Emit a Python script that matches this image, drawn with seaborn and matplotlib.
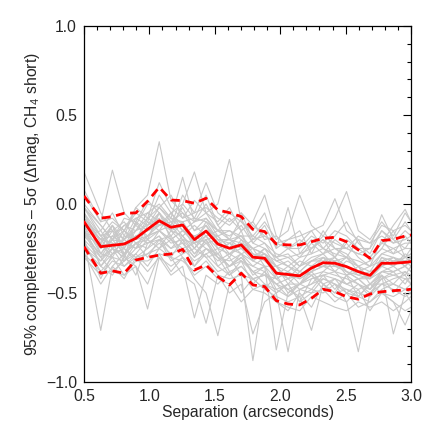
import numpy as np
import pandas as pd
import seaborn as sns
import matplotlib
matplotlib.use('Agg')
import matplotlib.pyplot as plt

# separations (arcsec) of the sampled radii
sep = [0.5, 0.628, 0.717, 0.807, 0.896, 0.986, 1.075, 1.165, 1.254, 1.344,
       1.433, 1.523, 1.612, 1.702, 1.791, 1.881, 1.970, 2.060, 2.149, 2.239,
       2.328, 2.418, 2.507, 2.597, 2.686, 2.776, 2.865, 2.955, 3.0]

# median and spread (red lines)
median = [-0.10, -0.24, -0.232, -0.225, -0.193, -0.142, -0.094, -0.131, -0.118, -0.200,
          -0.152, -0.225, -0.249, -0.230, -0.299, -0.305, -0.389, -0.396, -0.404, -0.360,
          -0.330, -0.333, -0.352, -0.380, -0.401, -0.333, -0.333, -0.328, -0.324]
upper = [0.045, -0.080, -0.071, -0.052, -0.050, 0.015, 0.094, 0.022, 0.019, 0.004,
         0.032, -0.034, -0.049, -0.071, -0.142, -0.155, -0.225, -0.230, -0.230, -0.212,
         -0.193, -0.187, -0.212, -0.258, -0.305, -0.206, -0.199, -0.180, -0.174]
lower = [-0.240, -0.389, -0.376, -0.389, -0.315, -0.300, -0.287, -0.281, -0.255, -0.371,
         -0.343, -0.408, -0.455, -0.389, -0.455, -0.464, -0.543, -0.562, -0.567, -0.530,
         -0.479, -0.493, -0.521, -0.535, -0.506, -0.493, -0.487, -0.483, -0.479]

# individual epochs (gray lines)
runs = [
    [-0.02, -0.15, -0.05, -0.18, -0.02, 0.05, 0.35, 0.02, -0.05, -0.10, 0.00, -0.12, -0.20, -0.08, -0.22, -0.15, -0.30, -0.28, -0.35, -0.25, -0.20, -0.30, -0.22, -0.30, -0.35, -0.20, -0.28, -0.18, -0.22],
    [-0.20, -0.71, -0.35, -0.28, -0.40, -0.22, -0.18, -0.30, -0.20, -0.35, -0.25, -0.30, -0.40, -0.32, -0.45, -0.38, -0.50, -0.45, -0.55, -0.42, -0.40, -0.48, -0.40, -0.52, -0.45, -0.40, -0.50, -0.42, -0.45],
    [0.05, -0.10, 0.19, -0.05, -0.12, 0.00, -0.02, 0.05, -0.08, 0.02, -0.05, -0.10, -0.02, -0.15, -0.10, -0.20, -0.18, -0.25, -0.22, -0.15, -0.25, -0.18, -0.10, -0.22, -0.28, -0.15, -0.20, -0.10, -0.15],
    [-0.10, -0.25, -0.15, -0.30, -0.10, -0.20, -0.05, -0.15, 0.00, 0.18, -0.05, 0.00, 0.25, -0.10, -0.15, -0.05, -0.25, -0.20, -0.15, -0.28, -0.15, -0.25, -0.30, -0.20, -0.32, -0.25, -0.15, -0.30, -0.25],
    [-0.25, -0.35, -0.40, -0.30, -0.35, -0.45, -0.28, -0.38, -0.30, -0.42, -0.50, -0.74, -0.45, -0.55, -0.48, -0.50, -0.55, -0.60, -0.50, -0.58, -0.45, -0.52, -0.55, -0.48, -0.60, -0.50, -0.55, -0.60, -0.58],
    [-0.15, -0.30, -0.25, -0.35, -0.28, -0.20, -0.25, -0.15, -0.22, -0.30, -0.20, -0.35, -0.30, -0.40, -0.88, -0.45, -0.48, -0.52, -0.45, -0.40, -0.48, -0.42, -0.50, -0.45, -0.50, -0.42, -0.38, -0.45, -0.40],
    [-0.18, -0.28, -0.30, -0.40, -0.35, -0.59, -0.30, -0.40, -0.35, -0.64, -0.40, -0.45, -0.38, -0.50, -0.42, -0.48, -0.40, -0.50, -0.45, -0.38, -0.45, -0.50, -0.40, -0.45, -0.52, -0.40, -0.45, -0.38, -0.42],
    [-0.05, -0.18, -0.10, -0.15, -0.05, -0.10, 0.05, -0.05, 0.00, -0.08, 0.05, -0.12, -0.05, -0.10, -0.18, -0.10, -0.20, -0.15, 0.05, -0.12, -0.18, -0.08, 0.07, -0.15, -0.20, -0.10, -0.18, -0.05, -0.10],
    [-0.12, -0.20, -0.28, -0.20, -0.25, -0.18, -0.15, -0.20, -0.25, -0.22, -0.30, -0.28, -0.35, -0.30, -0.38, -0.45, -0.50, -0.83, -0.48, -0.50, -0.42, -0.45, -0.55, -0.83, -0.50, -0.45, -0.48, -0.52, -0.50],
    [-0.22, -0.32, -0.25, -0.28, -0.22, -0.25, -0.20, -0.25, -0.18, -0.28, -0.22, -0.30, -0.35, -0.28, -0.40, -0.35, -0.82, -0.50, -0.45, -0.48, -0.40, -0.38, -0.45, -0.42, -0.48, -0.40, -0.73, -0.50, -0.55],
    [0.18, -0.05, -0.15, -0.10, -0.20, -0.08, -0.12, -0.05, -0.15, -0.10, -0.08, -0.15, -0.18, -0.12, -0.22, -0.25, -0.30, -0.25, -0.30, -0.22, -0.28, -0.20, -0.25, -0.28, -0.25, -0.06, -0.20, -0.25, -0.20],
    [-0.30, -0.40, -0.32, -0.35, -0.30, -0.28, -0.22, -0.28, -0.25, -0.32, -0.28, -0.35, -0.40, -0.35, -0.42, -0.40, -0.45, -0.48, -0.52, -0.71, -0.45, -0.50, -0.48, -0.52, -0.45, -0.50, -0.55, -0.68, -0.60],
    [-0.08, -0.20, -0.18, -0.12, -0.15, -0.08, -0.02, -0.10, -0.05, -0.15, -0.08, -0.18, -0.15, -0.20, -0.25, -0.22, -0.32, -0.35, -0.30, -0.28, -0.25, -0.28, -0.30, -0.32, -0.35, -0.28, -0.25, -0.30, -0.28],
    [-0.15, -0.35, -0.28, -0.25, -0.30, -0.25, -0.15, -0.22, -0.20, -0.28, -0.20, -0.30, -0.32, -0.28, -0.35, -0.38, -0.45, -0.42, -0.48, -0.45, -0.38, -0.40, -0.42, -0.45, -0.48, -0.38, -0.40, -0.38, -0.40],
    [0.00, -0.12, -0.20, -0.08, -0.10, 0.02, -0.05, -0.12, 0.05, -0.05, 0.12, -0.05, -0.10, -0.05, -0.12, -0.18, -0.22, -0.20, -0.18, -0.15, -0.12, 0.03, -0.15, -0.20, -0.22, -0.12, -0.15, -0.12, -0.15],
    [-0.20, -0.30, -0.38, -0.32, -0.28, -0.35, -0.25, -0.30, -0.40, -0.45, -0.67, -0.40, -0.50, -0.45, -0.73, -0.55, -0.50, -0.45, -0.55, -0.50, -0.48, -0.55, -0.50, -0.58, -0.55, -0.50, -0.52, -0.48, -0.50],
    [-0.05, -0.22, -0.12, -0.25, -0.15, -0.12, -0.08, -0.18, -0.10, -0.20, -0.12, -0.25, -0.22, -0.18, -0.28, -0.30, -0.35, -0.38, -0.32, -0.35, -0.30, -0.38, -0.32, -0.35, -0.42, -0.30, -0.35, -0.28, -0.30],
    [-0.12, -0.28, -0.20, -0.22, -0.18, -0.15, -0.12, -0.08, -0.15, -0.18, -0.22, -0.20, -0.28, -0.22, -0.30, -0.28, -0.38, -0.42, -0.40, -0.35, -0.35, -0.30, -0.38, -0.40, -0.38, -0.35, -0.30, -0.35, -0.32],
    [-0.18, -0.15, -0.25, -0.20, -0.12, -0.18, -0.10, -0.15, -0.18, -0.12, -0.18, -0.15, -0.20, -0.25, -0.20, -0.12, -0.25, -0.02, -0.28, -0.20, -0.25, -0.30, -0.20, -0.25, -0.30, -0.22, -0.12, -0.03, -0.10],
    [-0.28, -0.45, -0.35, -0.42, -0.30, -0.38, -0.30, -0.35, -0.30, -0.40, -0.35, -0.42, -0.45, -0.38, -0.48, -0.45, -0.55, -0.58, -0.60, -0.52, -0.55, -0.58, -0.60, -0.55, -0.58, -0.55, -0.60, -0.55, -0.52],
    [-0.08, -0.18, -0.25, -0.15, -0.20, -0.10, -0.15, -0.05, -0.12, -0.25, -0.15, -0.18, -0.25, -0.15, -0.32, -0.25, -0.30, -0.35, -0.38, -0.32, -0.28, -0.35, -0.30, -0.38, -0.35, -0.32, -0.35, -0.30, -0.32],
    [-0.10, -0.20, -0.12, -0.20, -0.08, -0.05, 0.00, -0.08, 0.15, -0.10, -0.05, -0.15, -0.08, -0.15, -0.10, 0.05, -0.18, -0.25, -0.20, -0.25, -0.18, -0.22, -0.25, -0.18, -0.22, -0.18, -0.22, -0.20, -0.18],
    [-0.22, -0.38, -0.30, -0.32, -0.22, -0.30, -0.20, -0.32, -0.28, -0.25, -0.30, -0.38, -0.35, -0.30, -0.38, -0.40, -0.42, -0.48, -0.45, -0.40, -0.45, -0.42, -0.45, -0.48, -0.45, -0.45, -0.42, -0.40, -0.45],
    [-0.15, -0.25, -0.20, -0.28, -0.22, -0.18, -0.15, -0.20, -0.15, -0.22, -0.18, -0.25, -0.28, -0.25, -0.32, -0.35, -0.42, -0.38, -0.42, -0.38, -0.35, -0.32, -0.38, -0.42, -0.42, -0.35, -0.38, -0.35, -0.38],
    [-0.05, -0.28, -0.18, -0.22, -0.25, -0.12, -0.05, -0.15, -0.12, -0.22, -0.10, -0.20, -0.22, -0.25, -0.28, -0.32, -0.38, -0.40, -0.42, -0.38, -0.30, -0.35, -0.35, -0.40, -0.42, -0.30, -0.32, -0.30, -0.28],
    [-0.18, -0.22, -0.30, -0.18, -0.20, -0.18, -0.12, -0.10, -0.18, -0.25, -0.18, -0.28, -0.22, -0.28, -0.25, -0.35, -0.35, -0.45, -0.38, -0.40, -0.38, -0.32, -0.40, -0.35, -0.45, -0.38, -0.35, -0.40, -0.35],
    [-0.02, -0.18, -0.15, -0.20, -0.15, -0.05, -0.10, -0.12, -0.02, -0.15, -0.12, -0.20, -0.20, -0.22, -0.25, -0.28, -0.32, -0.30, -0.35, -0.30, -0.28, -0.25, -0.28, -0.35, -0.32, -0.25, -0.28, -0.25, -0.25],
    [-0.25, -0.32, -0.22, -0.32, -0.25, -0.22, -0.18, -0.25, -0.22, -0.30, -0.25, -0.28, -0.35, -0.32, -0.38, -0.35, -0.48, -0.45, -0.45, -0.42, -0.40, -0.42, -0.45, -0.42, -0.48, -0.42, -0.40, -0.42, -0.42],
    [0.08, -0.10, -0.08, -0.15, -0.02, -0.08, 0.12, -0.02, -0.08, -0.05, -0.02, -0.08, -0.12, -0.05, -0.20, -0.18, -0.22, -0.25, -0.25, -0.18, -0.22, -0.15, -0.18, -0.25, -0.25, -0.15, -0.22, -0.15, -0.18],
    [-0.12, -0.35, -0.25, -0.30, -0.18, -0.22, -0.20, -0.18, -0.28, -0.20, -0.25, -0.32, -0.28, -0.32, -0.35, -0.30, -0.42, -0.38, -0.45, -0.35, -0.35, -0.38, -0.40, -0.38, -0.42, -0.38, -0.38, -0.35, -0.38],
    [-0.08, -0.25, -0.12, -0.28, -0.18, -0.15, -0.05, -0.20, -0.15, -0.18, -0.15, -0.22, -0.30, -0.20, -0.30, -0.25, -0.35, -0.42, -0.35, -0.32, -0.32, -0.30, -0.35, -0.38, -0.40, -0.32, -0.30, -0.35, -0.30],
    [-0.20, -0.42, -0.28, -0.25, -0.32, -0.28, -0.25, -0.20, -0.30, -0.35, -0.28, -0.25, -0.38, -0.35, -0.42, -0.40, -0.45, -0.52, -0.48, -0.45, -0.42, -0.45, -0.48, -0.50, -0.52, -0.45, -0.45, -0.48, -0.45],
    [-0.10, -0.20, -0.22, -0.25, -0.10, -0.15, -0.12, -0.10, -0.10, -0.20, -0.12, -0.22, -0.20, -0.18, -0.25, -0.28, -0.35, -0.32, -0.38, -0.32, -0.30, -0.32, -0.30, -0.35, -0.38, -0.28, -0.30, -0.32, -0.30],
    [-0.15, -0.30, -0.20, -0.15, -0.22, -0.20, -0.15, -0.12, -0.20, -0.22, -0.20, -0.18, -0.25, -0.28, -0.32, -0.28, -0.40, -0.35, -0.40, -0.38, -0.35, -0.35, -0.38, -0.42, -0.40, -0.35, -0.32, -0.32, -0.35],
    [-0.02, -0.12, -0.20, -0.12, -0.08, -0.12, -0.02, -0.08, -0.10, -0.08, -0.10, -0.15, -0.15, -0.18, -0.18, -0.22, -0.28, -0.30, -0.28, -0.25, -0.20, -0.25, -0.25, -0.28, -0.30, -0.22, -0.25, -0.22, -0.22],
    [-0.28, -0.38, -0.38, -0.40, -0.32, -0.32, -0.28, -0.30, -0.32, -0.38, -0.32, -0.40, -0.42, -0.40, -0.42, -0.48, -0.52, -0.55, -0.52, -0.48, -0.50, -0.45, -0.50, -0.52, -0.55, -0.48, -0.45, -0.48, -0.48],
]

sns.set_style('white')
plt.rcParams['font.family'] = ['Liberation Sans', 'DejaVu Sans']
plt.rcParams['mathtext.fontset'] = 'custom'
plt.rcParams['mathtext.rm'] = 'Liberation Sans'
plt.rcParams['mathtext.it'] = 'Liberation Sans:italic'

rows = []
for i, r in enumerate(runs):
    for x, y in zip(sep, r):
        rows.append((i, x, y))
df = pd.DataFrame(rows, columns=['run', 'sep', 'dmag'])

fig = plt.figure(figsize=(4.36, 4.36), dpi=100)
ax = fig.add_axes([0.1927, 0.1239, 0.75, 0.8165])

sns.lineplot(data=df, x='sep', y='dmag', units='run', estimator=None,
             color='#c8c8c8', linewidth=0.8, ax=ax, zorder=1)
sns.lineplot(x=sep, y=median, color='red', linewidth=2.0, ax=ax, zorder=3)
sns.lineplot(x=sep, y=upper, color='red', linewidth=2.0, linestyle=(0, (3.2, 2)), ax=ax, zorder=3)
sns.lineplot(x=sep, y=lower, color='red', linewidth=2.0, linestyle=(0, (3.2, 2)), ax=ax, zorder=3)

ax.set_xlim(0.5, 3.0)
ax.set_ylim(-1.0, 1.0)
ax.set_xticks([0.5, 1.0, 1.5, 2.0, 2.5, 3.0])
ax.set_yticks([-1.0, -0.5, 0.0, 0.5, 1.0])
ax.set_xticklabels(['0.5', '1.0', '1.5', '2.0', '2.5', '3.0'])
ax.set_yticklabels(['\u22121.0', '\u22120.5', '0.0', '0.5', '1.0'])
ax.xaxis.set_minor_locator(matplotlib.ticker.MultipleLocator(0.1))
ax.yaxis.set_minor_locator(matplotlib.ticker.MultipleLocator(0.1))
ax.tick_params(which='both', direction='in', top=True, right=True,
               color='black', width=0.8, labelsize=11.3)
ax.tick_params(which='major', length=6, pad=5)
ax.tick_params(which='minor', length=3)
for s in ax.spines.values():
    s.set_color('black')
    s.set_linewidth(0.9)

ax.set_xlabel('Separation (arcseconds)', fontsize=11.3, labelpad=1)
ax.set_ylabel('95% completeness \u2013 5\u03c3 (\u0394mag, CH$_4$ short)', fontsize=11.3, labelpad=3)

fig.savefig('out.png', dpi=100)
